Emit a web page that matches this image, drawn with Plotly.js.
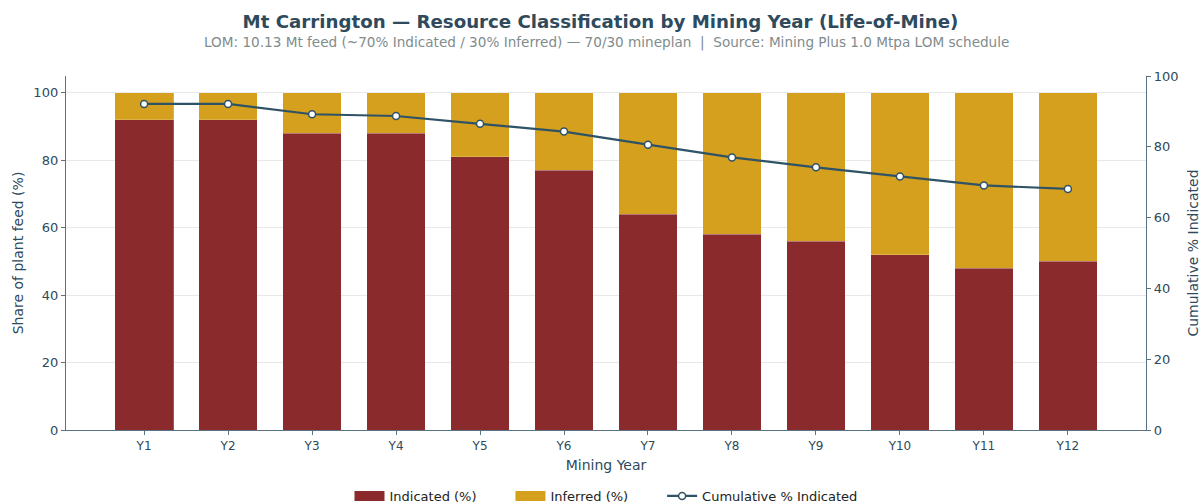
<!DOCTYPE html>
<html>
<head>
<meta charset="utf-8">
<script src="https://cdn.plot.ly/plotly-3.0.1.min.js"></script>
<style>html,body{margin:0;padding:0;background:#fff;}#chart{width:1201px;height:504px;}</style>
</head>
<body>
<div id="chart"></div>
<script>
const years = ["Y1","Y2","Y3","Y4","Y5","Y6","Y7","Y8","Y9","Y10","Y11","Y12"];
const indicated = [92, 92, 88, 88, 81, 77, 64, 58, 56, 52, 48, 50];
const inferred = [8, 8, 12, 12, 19, 23, 36, 42, 44, 48, 52, 50];
const cumulativeIndicated = [92.1, 92.1, 89.2, 88.7, 86.5, 84.3, 80.6, 77.0, 74.2, 71.6, 69.1, 68.1];

const textCol = "#2e4a5c";
const font = "DejaVu Sans, sans-serif";
const colInd = "#8b2a2d", colInf = "#d4a01e", colLine = "#2f5366";
const pad = "\u00a0".repeat(7);

const traces = [
  {type:"bar", name:"Indicated (%)", x:years, y:indicated, showlegend:false,
   marker:{color:colInd, line:{color:"rgba(255,255,255,0.4)", width:0.5}}},
  {type:"bar", name:"Inferred (%)", x:years, y:inferred, showlegend:false,
   marker:{color:colInf, line:{color:"rgba(255,255,255,0.4)", width:0.5}}},
  // legend proxies (wide rectangle swatches like the reference)
  {type:"scatter", mode:"lines", name:"Indicated (%)" + pad, x:[null], y:[null],
   line:{color:colInd, width:10}, hoverinfo:"skip"},
  {type:"scatter", mode:"lines", name:"Inferred (%)" + pad, x:[null], y:[null],
   line:{color:colInf, width:10}, hoverinfo:"skip"},
  {type:"scatter", mode:"lines+markers", name:"Cumulative % Indicated", x:years, y:cumulativeIndicated,
   yaxis:"y2", line:{color:colLine, width:2.2},
   marker:{symbol:"circle", size:7, color:"#ffffff", line:{color:colLine, width:1.5}}}
];

const layout = {
  width:1201, height:504,
  margin:{l:66, r:55, t:76, b:74, autoexpand:false},
  paper_bgcolor:"#fff", plot_bgcolor:"#fff",
  font:{family:font, color:textCol, size:12},
  barmode:"stack", bargap:0.3,
  title:{text:"<b>Mt Carrington — Resource Classification by Mining Year (Life-of-Mine)</b>",
         font:{family:font, size:18.2, color:textCol}, x:0.5, xanchor:"center",
         yref:"container", y:1-22/504, yanchor:"middle"},
  annotations:[{text:"LOM: 10.13 Mt feed (~70% Indicated / 30% Inferred) — 70/30 mineplan  |  Source: Mining Plus 1.0 Mtpa LOM schedule",
    xref:"paper", yref:"paper", x:0.5, xanchor:"center", y:(430-42)/354, yanchor:"middle",
    showarrow:false, font:{family:font, size:13.6, color:"#7f8c8d"}}],
  xaxis:{type:"category", range:[-0.93, 11.93], showline:true, linecolor:"#5b7282", linewidth:1.2,
         ticks:"outside", ticklen:4, tickcolor:"#5b7282", showgrid:false,
         tickfont:{size:12, color:textCol},
         title:{text:"Mining Year", font:{size:14, color:textCol}, standoff:8}},
  yaxis:{range:[0,105], tickvals:[0,20,40,60,80,100], showline:true, linecolor:"#5b7282", linewidth:1.2,
         ticks:"outside", ticklen:4, tickcolor:"#5b7282", showgrid:true, gridcolor:"#e8e8e8", zeroline:false,
         tickfont:{size:13, color:textCol},
         title:{text:"Share of plant feed (%)", font:{size:14, color:textCol}, standoff:6}},
  yaxis2:{overlaying:"y", side:"right", range:[0,100], tickvals:[0,20,40,60,80,100], showline:true,
          linecolor:"#5b7282", linewidth:1.2, ticks:"outside", ticklen:4, tickcolor:"#5b7282",
          showgrid:false, zeroline:false, tickfont:{size:13, color:textCol},
          title:{text:"Cumulative % Indicated", font:{size:14, color:textCol}, standoff:10}},
  legend:{orientation:"h", x:0.5, xanchor:"center", y:-(496-430)/354, yanchor:"middle",
          font:{size:13, color:"#222"}, traceorder:"normal", itemwidth:30}
};

Plotly.newPlot("chart", traces, layout, {displayModeBar:false, staticPlot:true});
</script>
</body>
</html>
